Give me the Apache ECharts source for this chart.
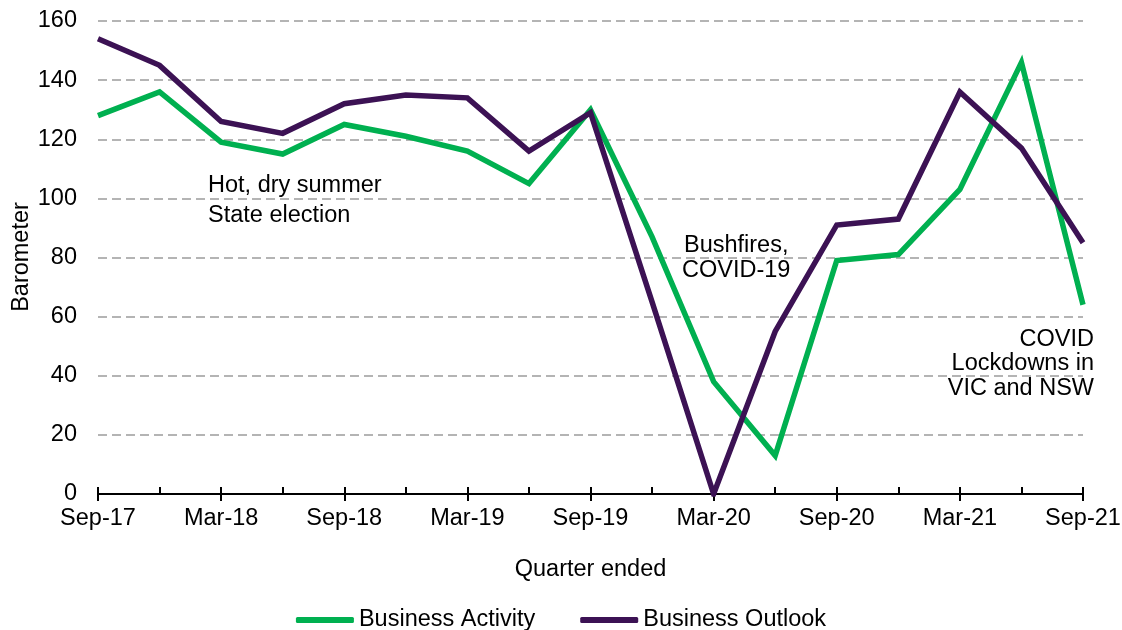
<!DOCTYPE html>
<html>
<head>
<meta charset="utf-8">
<script src="https://cdn.jsdelivr.net/npm/echarts@6/dist/echarts.min.js"></script>
<style>
  html, body { margin: 0; padding: 0; background: #fff; }
  #chart { width: 1122px; height: 630px; }
</style>
</head>
<body>
<div id="chart"></div>
<script>
// Quarterly business barometer, Sep-17 to Sep-21
const quarters = ['Sep-17','Dec-17','Mar-18','Jun-18','Sep-18','Dec-18','Mar-19','Jun-19',
                  'Sep-19','Dec-19','Mar-20','Jun-20','Sep-20','Dec-20','Mar-21','Jun-21','Sep-21'];
const businessActivity = [128, 136, 119, 115, 125, 121, 116, 105, 130, 87, 38, 13, 79, 81, 103, 146, 64];
const businessOutlook  = [154, 145, 126, 122, 132, 135, 134, 116, 129, 65, 0, 55, 91, 93, 136, 117, 85];
const yTicks = [0, 20, 40, 60, 80, 100, 120, 140, 160];

const FONT = 'Liberation Sans, Arial, sans-serif';
const FS = 23.5;
const GREEN = '#00b050';
const PURPLE = '#3c1254';

const chart = echarts.init(document.getElementById('chart'), null, { renderer: 'canvas' });

const baseX = {
  type: 'category',
  data: quarters,
  boundaryGap: false,
  position: 'bottom'
};

chart.setOption({
  animation: false,
  backgroundColor: '#fff',
  grid: { left: 98, right: 39, top: 21, bottom: 136, containLabel: false, outerBoundsMode: 'none' },
  legend: {
    top: 603,
    left: 'center',
    itemWidth: 58,
    itemHeight: 6,
    itemGap: 45,
    icon: 'roundRect',
    textStyle: { fontFamily: FONT, fontSize: FS, color: '#000' },
    data: [
      { name: 'Business Activity', itemStyle: { color: GREEN } },
      { name: 'Business Outlook', itemStyle: { color: PURPLE } }
    ]
  },
  xAxis: [
    Object.assign({}, baseX, {
      name: 'Quarter ended',
      nameLocation: 'middle',
      nameGap: 64,
      nameTextStyle: { fontFamily: FONT, fontSize: FS, color: '#000' },
      axisLine: { show: true, lineStyle: { color: '#000', width: 2 } },
      axisTick: { show: true, interval: 1, inside: false, length: 7, lineStyle: { color: '#000', width: 2 } },
      axisLabel: { interval: 1, margin: 13, fontFamily: FONT, fontSize: FS, color: '#000' },
      splitLine: { show: false }
    }),
    Object.assign({}, baseX, {
      axisLine: { show: false },
      axisTick: { show: true, interval: 0, inside: true, length: 7, lineStyle: { color: '#000', width: 2 } },
      axisLabel: { show: false },
      splitLine: { show: false }
    })
  ],
  yAxis: {
    type: 'value',
    min: 0,
    max: 160,
    interval: 20,
    axisLine: { show: false },
    axisTick: { show: false },
    axisLabel: {
      margin: 21,
      fontFamily: FONT, fontSize: FS, color: '#000',
      formatter: v => (yTicks.indexOf(v) >= 0 ? String(v) : '')
    },
    splitLine: { show: true, lineStyle: { color: '#b4b4b4', width: 2, type: [9, 5] } }
  },
  series: [
    {
      name: 'Business Activity',
      type: 'line',
      data: businessActivity,
      symbol: 'none',
      lineStyle: { color: GREEN, width: 5.5, join: 'miter' },
      itemStyle: { color: GREEN },
      z: 3
    },
    {
      name: 'Business Outlook',
      type: 'line',
      data: businessOutlook,
      symbol: 'none',
      lineStyle: { color: PURPLE, width: 5.5, join: 'miter' },
      itemStyle: { color: PURPLE },
      z: 4
    }
  ],
  graphic: [
    {
      // y-axis title
      type: 'text', x: 22, y: 257, rotation: Math.PI / 2,
      style: { text: 'Barometer', fontFamily: FONT, fontSize: FS, fill: '#000', textAlign: 'center', textVerticalAlign: 'middle' }
    },
    {
      type: 'text', left: 208, top: 171,
      style: { text: 'Hot, dry summer\nState election', fontFamily: FONT, fontSize: FS, lineHeight: 30, fill: '#000', textAlign: 'left' }
    },
    {
      type: 'text', left: 682, top: 233,
      style: { text: 'Bushfires,\nCOVID-19', fontFamily: FONT, fontSize: FS, lineHeight: 25, fill: '#000', textAlign: 'center' }
    },
    {
      type: 'text', right: 28, top: 327,
      style: { text: 'COVID\nLockdowns in\nVIC and NSW', fontFamily: FONT, fontSize: FS, lineHeight: 24.5, fill: '#000', textAlign: 'right' }
    }
  ]
});
</script>
</body>
</html>
